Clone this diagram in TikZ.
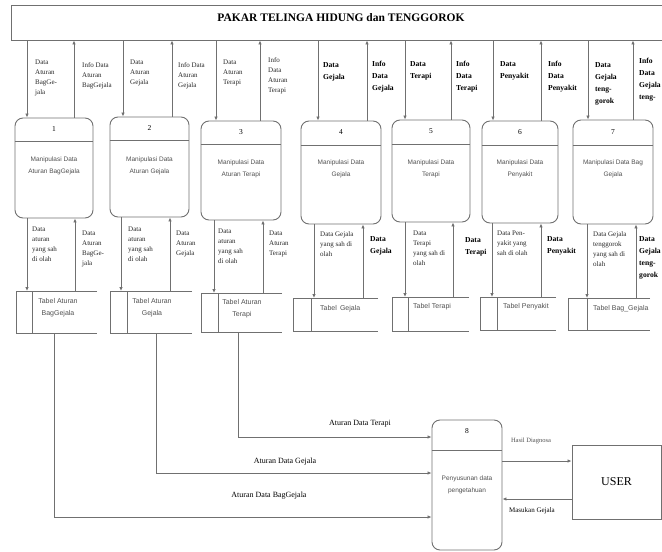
\documentclass[tikz,border=0pt]{standalone}
\usepackage{fontspec}
\setmainfont{Liberation Serif}
\setsansfont{Liberation Sans}
\usetikzlibrary{arrows.meta}
\definecolor{linegray}{HTML}{707070}
\definecolor{textgray}{HTML}{505050}
\tikzset{
  proc/.style={draw=linegray,line width=0.9pt,rounded corners=8pt},
  flow/.style={draw=linegray,line width=0.8pt,-{Latex[length=4pt,width=3.5pt]}},
  store/.style={draw=linegray,line width=0.8pt},
  lbl/.style={anchor=north west,inner sep=0pt,align=left,text=black!85,
    font=\fontsize{7}{10}\selectfont},
  blbl/.style={anchor=north west,inner sep=0pt,align=left,text=black,
    font=\bfseries\fontsize{7.6}{12}\selectfont},
  ptext/.style={inner sep=0pt,align=center,text=textgray,
    font=\sffamily\fontsize{6.5}{12}\selectfont},
  stext/.style={inner sep=0pt,align=center,text=textgray,
    font=\sffamily\fontsize{7}{12}\selectfont},
  num/.style={inner sep=0pt,font=\fontsize{7.5}{9}\selectfont}
}
\begin{document}
\begin{tikzpicture}[x=1pt,y=-1pt]
\useasboundingbox (0,0) rectangle (662,552);
\clip (0,0) rectangle (662,552);
% external entity
\node[draw=linegray,line width=0.9pt,minimum width=660pt,minimum height=35pt,inner sep=0pt] (pakar) at (341,22.5) {};
\node[font=\bfseries\fontsize{11.5}{14}\selectfont,inner sep=0pt] (judul) at (341,18) {PAKAR TELINGA HIDUNG dan TENGGOROK};
% processes
\node[proc,minimum width=78pt,minimum height=100pt,inner sep=0pt] (p1) at (54,168) {};
\node[proc,minimum width=79pt,minimum height=100pt,inner sep=0pt] (p2) at (149.5,167) {};
\node[proc,minimum width=80pt,minimum height=99pt,inner sep=0pt] (p3) at (241,170.5) {};
\node[proc,minimum width=80pt,minimum height=103pt,inner sep=0pt] (p4) at (341,172.5) {};
\node[proc,minimum width=78pt,minimum height=102pt,inner sep=0pt] (p5) at (431,171) {};
\node[proc,minimum width=76pt,minimum height=102pt,inner sep=0pt] (p6) at (520,172) {};
\node[proc,minimum width=80pt,minimum height=104pt,inner sep=0pt] (p7) at (613,172) {};
\node[proc,minimum width=70pt,minimum height=130pt,inner sep=0pt] (p8) at (467,485) {};
\node[draw=linegray,line width=0.9pt,minimum width=89pt,minimum height=74pt,inner sep=0pt,
  font=\fontsize{12}{14}\selectfont] (user) at (616.5,482) {USER};
% dividers
\foreach \p/\y in {p1/141,p2/140,p3/144,p4/145,p5/144,p6/145,p7/145,p8/450}
  \draw[linegray,line width=0.9pt] (\p.west |- 0,\y) -- (\p.east |- 0,\y);
\node[num] (n1) at (54,129) {1};
\node[num] (n2) at (149.5,128) {2};
\node[num] (n3) at (241,132) {3};
\node[num] (n4) at (341,132) {4};
\node[num] (n5) at (431,131) {5};
\node[num] (n6) at (520,132) {6};
\node[num] (n7) at (613,132) {7};
\node[num] (n8) at (467,431) {8};
\node[ptext] (t1) at (54,166) {Manipulasi Data\\Aturan BagGejala};
\node[ptext] (t2) at (149.5,166) {Manipulasi Data\\Aturan Gejala};
\node[ptext] (t3) at (241,169) {Manipulasi Data\\Aturan Terapi};
\node[ptext] (t4) at (341,169) {Manipulasi Data\\Gejala};
\node[ptext] (t5) at (431,169) {Manipulasi Data\\Terapi};
\node[ptext] (t6) at (520,169) {Manipulasi Data\\Penyakit};
\node[ptext] (t7) at (613,169) {Manipulasi Data Bag\\Gejala};
\node[ptext] (t8) at (467,485) {Penyusunan data\\pengetahuan};
% data stores
\foreach \n/\l/\m/\r/\t/\b in {1/16/32/97/291/333,2/110/127/192/291/333,3/201/218/282/293/332,
    4/293/311/378/298/331,5/392/408/469/297/331,6/480/497/556/297/330,7/568/587/650/298/330}
  \draw[store] (\r,\t) -- (\l,\t) coordinate (s\n) -- (\l,\b) -- (\r,\b) (\m,\t) -- (\m,\b);
\node[stext] (ts1) at (58,308) {Tabel Aturan\\BagGejala};
\node[stext] (ts2) at (152,308) {Tabel Aturan\\Gejala};
\node[stext] (ts3) at (242,309) {Tabel Aturan\\Terapi};
\node[stext,anchor=west] (ts4) at (320,309) {Tabel\, Gejala};
\node[stext,anchor=west] (ts5) at (413,307) {Tabel Terapi};
\node[stext,anchor=west] (ts6) at (503,307) {Tabel Penyakit};
\node[stext,anchor=west] (ts7) at (593,309) {Tabel Bag\_Gejala};
% flows between entity, processes and stores
\foreach \n/\a/\b/\c/\d in {1/27/74/27/75,2/123/172/121/170,3/216/260/214/263,4/318/367/314/363,
    5/405/451/405/453,6/493/541/492/541,7/588/633/587/636}{
  \coordinate (ia\n) at (\a,0);
  \coordinate (ib\n) at (\b,0);
  \coordinate (ic\n) at (\c,0);
  \coordinate (id\n) at (\d,0);
  \draw[flow] (ia\n |- pakar.south) -- (ia\n |- p\n.north);
  \draw[flow] (ib\n |- p\n.north) -- (ib\n |- pakar.south);
  \draw[flow] (ic\n |- p\n.south) -- (ic\n |- s\n);
  \draw[flow] (id\n |- s\n) -- (id\n |- p\n.south);
}
\node[lbl] (la1) at (35,60) {Data\\Aturan\\BagGe-\\jala};
\node[lbl] (lb1) at (82,62) {Info Data\\Aturan\\BagGejala};
\node[lbl] (la2) at (130,60) {Data\\Aturan\\Gejala};
\node[lbl] (lb2) at (178,62) {Info Data\\Aturan\\Gejala};
\node[lbl] (la3) at (223,60) {Data\\Aturan\\Terapi};
\node[lbl] (lb3) at (268,57) {Info\\Data\\Aturan\\Terapi};
\node[blbl] (la4) at (323,62) {Data\\Gejala};
\node[blbl] (lb4) at (372,61) {Info\\Data\\Gejala};
\node[blbl] (la5) at (410,61) {Data\\Terapi};
\node[blbl] (lb5) at (456,61) {Info\\Data\\Terapi};
\node[blbl] (la6) at (500,61) {Data\\Penyakit};
\node[blbl] (lb6) at (548,61) {Info\\Data\\Penyakit};
\node[blbl] (la7) at (595,62) {Data\\Gejala\\teng-\\gorok};
\node[blbl] (lb7) at (639,58) {Info\\Data\\Gejala\\teng-};
\node[lbl] (lc1) at (32,227) {Data\\aturan\\yang sah\\di olah};
\node[lbl] (ld1) at (82,231) {Data\\Aturan\\BagGe-\\jala};
\node[lbl] (lc2) at (128,227) {Data\\aturan\\yang sah\\di olah};
\node[lbl] (ld2) at (176,231) {Data\\Aturan\\Gejala};
\node[lbl] (lc3) at (218,229) {Data\\aturan\\yang sah\\di olah};
\node[lbl] (ld3) at (269,231) {Data\\Aturan\\Terapi};
\node[lbl] (lc4) at (320,231) {Data Gejala\\yang sah di\\olah};
\node[blbl] (ld4) at (370,236) {Data\\Gejala};
\node[lbl] (lc5) at (413,231) {Data\\Terapi\\yang sah di\\olah};
\node[blbl] (ld5) at (465,237) {Data\\Terapi};
\node[lbl] (lc6) at (497,231) {Data Pen-\\yakit yang\\sah di olah};
\node[blbl] (ld6) at (547,236) {Data\\Penyakit};
\node[lbl] (lc7) at (593,231) {Data Gejala\\tenggorok\\yang sah di\\olah};
\node[blbl] (ld7) at (639,236) {Data\\Gejala\\teng-\\gorok};
% stores to process 8
\coordinate (b1) at (54,333);
\coordinate (b2) at (156,333);
\coordinate (b3) at (238,332);
\coordinate (k1) at (54,517);
\coordinate (k2) at (156,473);
\coordinate (k3) at (238,437);
\draw[flow] (b1) -- (k1) -- (k1 -| p8.west);
\draw[flow] (b2) -- (k2) -- (k2 -| p8.west);
\draw[flow] (b3) -- (k3) -- (k3 -| p8.west);
\node[font=\fontsize{8}{10}\selectfont,inner sep=0pt] (a3) at (360,424) {Aturan Data Terapi};
\node[font=\fontsize{8}{10}\selectfont,inner sep=0pt] (a2) at (285,462) {Aturan Data Gejala};
\node[font=\fontsize{8}{10}\selectfont,inner sep=0pt] (a1) at (269,496) {Aturan Data BagGejala};
% process 8 and user
\coordinate (hd) at (0,461);
\coordinate (mg) at (0,499);
\draw[flow] (hd -| p8.east) -- (hd -| user.west);
\draw[flow] (mg -| user.west) -- (mg -| p8.east);
\node[font=\fontsize{6.5}{8}\selectfont,text=textgray,inner sep=0pt] (hasil) at (531,441) {Hasil Diagnosa};
\node[font=\fontsize{7}{8}\selectfont,inner sep=0pt] (masuk) at (532,511) {Masukan Gejala};
\end{tikzpicture}
\end{document}
